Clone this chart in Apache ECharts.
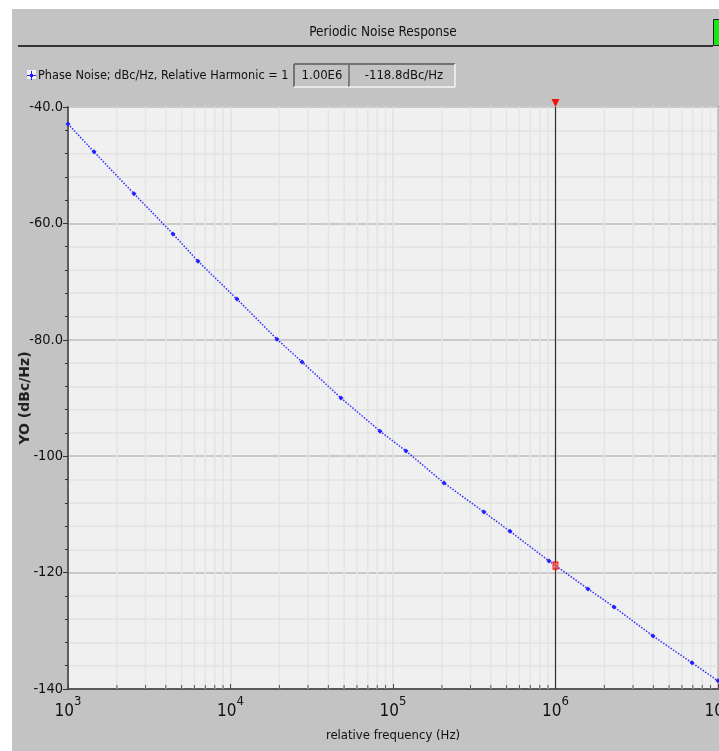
<!DOCTYPE html>
<html>
<head>
<meta charset="utf-8">
<script src="https://cdn.jsdelivr.net/npm/echarts@6/dist/echarts.min.js"></script>
<style>
  html, body { margin: 0; padding: 0; background: #ffffff; }
  #panel { position: absolute; left: 12px; top: 9px; width: 707px; height: 742px; background: #c3c3c3; }
  #chart { position: absolute; left: 0; top: 0; width: 719px; height: 751px; }
</style>
</head>
<body>
<div id="panel"></div>
<div id="chart"></div>
<script>
// ---- data ----
const chartTitle = 'Periodic Noise Response';
const seriesName = 'Phase Noise; dBc/Hz, Relative Harmonic = 1';
const xAxisName = 'relative frequency (Hz)';
const yAxisName = 'YO (dBc/Hz)';
const freqs = [1000, 1445, 2547, 4426, 6310, 10960, 19320, 27540, 47860, 83180,
               120200, 206000, 363000, 524800, 912000, 1585000, 2290000, 3980000, 6920000, 10000000];
const phaseNoise = [-42.9, -47.7, -54.9, -61.8, -66.5, -73.0, -79.9, -83.8, -90.0, -95.7,
                    -99.1, -104.6, -109.6, -112.9, -118.0, -122.8, -125.9, -130.9, -135.5, -138.6];
const markerFreq = 1000000;
const markerValue = -118.8;
const yMin = -140, yMax = -40, yInterval = 20;
const xMin = 1000, xMax = 10000000;
const minorFreqs = [2000, 3000, 4000, 5000, 6000, 7000, 8000, 9000,
                    20000, 30000, 40000, 50000, 60000, 70000, 80000, 90000,
                    200000, 300000, 400000, 500000, 600000, 700000, 800000, 900000,
                    2000000, 3000000, 4000000, 5000000, 6000000, 7000000, 8000000, 9000000];

const FONT = '"Liberation Sans Narrow", "DejaVu Sans Condensed", "Liberation Sans", sans-serif';

const chart = echarts.init(document.getElementById('chart'), null, { renderer: 'canvas' });

const markerFreqText = (markerFreq).toExponential(2).toUpperCase().replace('E+', 'E');
const markerValText = markerValue.toFixed(1) + 'dBc/Hz';

function sunkenBox(x, y, w, h) {
  return [
    { type: 'line', shape: { x1: x, y1: y, x2: x + w, y2: y }, style: { stroke: '#5a5a5a', lineWidth: 1.5 } },
    { type: 'line', shape: { x1: x, y1: y, x2: x, y2: y + h }, style: { stroke: '#5a5a5a', lineWidth: 1.5 } },
    { type: 'line', shape: { x1: x, y1: y + h, x2: x + w, y2: y + h }, style: { stroke: '#f4f4f4', lineWidth: 1.5 } },
    { type: 'line', shape: { x1: x + w, y1: y, x2: x + w, y2: y + h }, style: { stroke: '#f4f4f4', lineWidth: 1.5 } }
  ];
}

const option = {
  animation: false,
  backgroundColor: 'transparent',
  title: {
    text: chartTitle,
    left: 378, top: 20, textAlign: 'center',
    textStyle: { fontFamily: FONT, fontSize: 13.5, fontWeight: 'normal', color: '#111' }
  },
  legend: {
    data: [seriesName],
    left: 27, top: 69,
    padding: 0,
    itemWidth: 9, itemHeight: 9, itemGap: 2,
    icon: 'path://M0,4 L9,4 L9,5 L0,5 Z M4,0 L5,0 L5,9 L4,9 Z M3,3 L6,3 L6,6 L3,6 Z',
    itemStyle: { color: '#1f1fff', borderWidth: 0 },
    lineStyle: { width: 0 },
    textStyle: { fontFamily: FONT, fontSize: 12.6, color: '#111', padding: [0, 0, 0, -3] },
    selectedMode: false
  },
  graphic: [
    { type: 'line', shape: { x1: 18, y1: 46, x2: 713, y2: 46 }, style: { stroke: '#333', lineWidth: 2 } },
    { type: 'rect', shape: { x: 713.5, y: 19.5, width: 8, height: 26 }, style: { fill: '#19e619', stroke: '#222', lineWidth: 1 } },
    { type: 'rect', shape: { x: 27, y: 70, width: 9, height: 9 }, style: { fill: '#f4f4f4' }, z: -1 },
    ...sunkenBox(294, 64, 55, 23),
    ...sunkenBox(349, 64, 106, 23),
    { type: 'text', x: 322, y: 76, style: { text: markerFreqText, font: '13px ' + FONT, fill: '#111', align: 'center', verticalAlign: 'middle' } },
    { type: 'text', x: 404, y: 76, style: { text: markerValText, font: '13px ' + FONT, fill: '#111', align: 'center', verticalAlign: 'middle' } }
  ],
  grid: {
    left: 68, right: 1, top: 107, bottom: 62,
    show: true, backgroundColor: '#f0f0f0', borderColor: '#4a4a4a', borderWidth: 1.5,
    containLabel: false,
    outerBoundsMode: 'none'
  },
  xAxis: {
    type: 'log', logBase: 10, min: xMin, max: xMax,
    name: xAxisName, nameLocation: 'middle', nameGap: 40,
    nameMoveOverlap: false,
    nameTextStyle: { fontFamily: FONT, fontSize: 13, color: '#111' },
    axisLine: { show: true, lineStyle: { color: '#333', width: 1.5 } },
    axisTick: { show: true, inside: true, length: 5, lineStyle: { color: '#444' } },
    splitLine: { show: true, lineStyle: { color: '#e2e2e2', width: 1.5 } },
    axisLabel: {
      margin: 6,
      hideOverlap: false,
      formatter: function (v) {
        const e = Math.round(Math.log10(v));
        return '{b|10}{s|' + e + '}';
      },
      rich: {
        b: { fontFamily: FONT, fontSize: 17, color: '#111', verticalAlign: 'bottom', padding: [8, 0, 0, 0] },
        s: { fontFamily: FONT, fontSize: 13, color: '#111', verticalAlign: 'top' }
      }
    }
  },
  yAxis: {
    type: 'value', min: yMin, max: yMax, interval: yInterval,
    name: yAxisName, nameLocation: 'middle', nameGap: 36, nameRotate: 90,
    nameMoveOverlap: false,
    nameTextStyle: { fontFamily: '"DejaVu Sans", sans-serif', fontSize: 14, fontWeight: 'bold', color: '#222' },
    axisLine: { show: true, lineStyle: { color: '#333', width: 1.5 } },
    axisTick: { show: true, inside: false, length: 5, lineStyle: { color: '#333' } },
    minorTick: { show: true, splitNumber: 5, length: 3, lineStyle: { color: '#333' } },
    splitLine: { show: true, lineStyle: { color: '#c9c9c9', width: 2 } },
    minorSplitLine: { show: true, lineStyle: { color: '#e2e2e2', width: 1.5 } },
    axisLabel: {
      margin: 5,
      fontFamily: FONT, fontSize: 14.5, color: '#111',
      formatter: function (v) { return Math.abs(v) < 100 ? v.toFixed(1) : String(v); }
    }
  },
  series: [
    {
      type: 'custom',
      name: 'minorGrid',
      silent: true,
      z: 1,
      data: minorFreqs.map(f => [f, yMin]),
      encode: { x: 0, y: 1 },
      renderItem: function (params, api) {
        const f = api.value(0);
        const top = api.coord([f, yMax]);
        const bot = api.coord([f, yMin]);
        return {
          type: 'group',
          children: [
            { type: 'line', shape: { x1: bot[0], y1: top[1], x2: bot[0], y2: bot[1] }, style: { stroke: '#e4e4e4', lineWidth: 1.5 } },
            { type: 'line', shape: { x1: bot[0], y1: bot[1], x2: bot[0], y2: bot[1] - 4 }, style: { stroke: '#555', lineWidth: 1 } }
          ]
        };
      }
    },
    {
      type: 'line',
      name: seriesName,
      z: 3,
      data: freqs.map((f, i) => [f, phaseNoise[i]]),
      symbol: 'diamond', symbolSize: 5, showSymbol: true,
      itemStyle: { color: '#1f1fff' },
      lineStyle: { color: '#3030ff', width: 1.5, type: [1.5, 1.5] },
      markLine: {
        silent: true, symbol: ['none', 'none'],
        label: { show: false },
        lineStyle: { color: '#333', width: 1.2, type: 'solid' },
        data: [{ xAxis: markerFreq }]
      },
      markPoint: {
        silent: true,
        label: { show: false },
        data: [
          { coord: [markerFreq, yMax], symbol: 'triangle', symbolSize: [8, 8], symbolRotate: 180, symbolOffset: [0, -4], itemStyle: { color: '#f01010' } },
          { coord: [markerFreq, markerValue], symbol: 'rect', symbolSize: [5, 7], itemStyle: { color: 'rgba(255,90,90,0.7)', borderColor: '#f01010', borderWidth: 1 } }
        ]
      }
    }
  ]
};
chart.setOption(option);
</script>
</body>
</html>
